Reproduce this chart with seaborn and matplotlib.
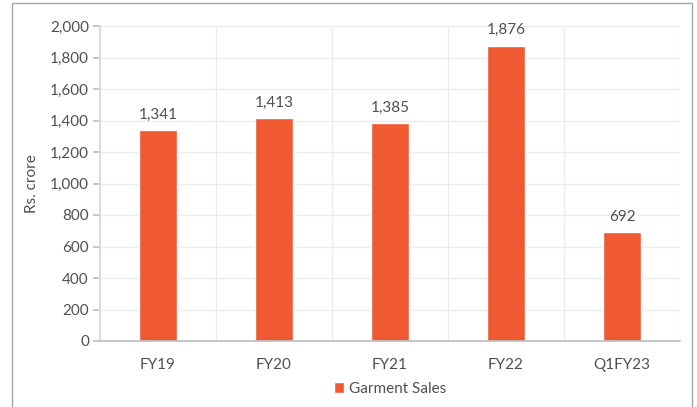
import matplotlib
matplotlib.use("Agg")
import matplotlib.pyplot as plt
import seaborn as sns
import pandas as pd
from matplotlib.patches import Rectangle
from matplotlib.ticker import FuncFormatter, FixedLocator

categories = ["FY19", "FY20", "FY21", "FY22", "Q1FY23"]
values = [1341, 1413, 1385, 1876, 692]
series_name = "Garment Sales"

sns.set_theme(style="white")
plt.rcParams['font.family'] = ['Lato', 'DejaVu Sans']

df = pd.DataFrame({"cat": categories, "val": values, "series": series_name})

fig = plt.figure(figsize=(6.97, 4.07), dpi=100)
ax = fig.add_axes([100/697, 1-341/407, 580/697, 315/407])

color = "#F05A32"
txt = "#505050"
sns.barplot(data=df, x="cat", y="val", hue="series", palette=[color], width=0.32,
            ax=ax, saturation=1, legend=True)

ax.set_xlim(-0.5, 4.5)
ax.set_ylim(0, 2000)
ax.set_yticks(range(0, 2001, 200))
ax.yaxis.set_major_formatter(FuncFormatter(lambda v, p: f"{int(v):,}"))
ax.xaxis.set_minor_locator(FixedLocator([i + 0.5 for i in range(-1, len(categories))]))
ax.grid(axis="y", which="major", color="#ececec", linewidth=1)
ax.grid(axis="x", which="minor", color="#ececec", linewidth=1)
ax.set_axisbelow(True)

for c in ax.containers:
    ax.bar_label(c, labels=[f"{v:,}" for v in values], padding=6, fontsize=11, color=txt)

for s in ["top", "right"]:
    ax.spines[s].set_visible(False)
ax.spines["left"].set_color("#d9d9d9")
ax.spines["bottom"].set_color("#bfbfbf")
ax.tick_params(axis="y", which="major", left=True, length=5, color="#bfbfbf",
               labelsize=11, labelcolor=txt, pad=3)
ax.tick_params(axis="x", which="both", bottom=False, labelsize=11, labelcolor=txt, pad=6)
ax.set_xlabel("")
ax.set_ylabel("Rs. crore", fontsize=11, color=txt, labelpad=8)

leg = ax.legend(loc="upper center", bbox_to_anchor=(0.5, -0.085), frameon=False,
                fontsize=11, handlelength=0.7, handleheight=0.7, handletextpad=0.3)
for t in leg.get_texts():
    t.set_color(txt)

fig.patches.append(Rectangle((12/697, -0.02), 680/697, 1 - 3/407 + 0.02,
                             transform=fig.transFigure, fill=False,
                             edgecolor="#a6a6a6", linewidth=1))

fig.savefig("out.png", dpi=100)
